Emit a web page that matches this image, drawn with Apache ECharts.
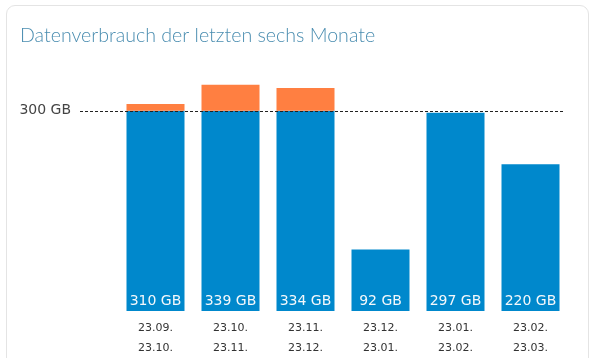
<!DOCTYPE html>
<html>
<head>
<meta charset="utf-8">
<script src="https://cdn.jsdelivr.net/npm/echarts@6/dist/echarts.min.js"></script>
<style>
html,body{margin:0;padding:0;background:#fff;width:597px;height:358px;overflow:hidden;}
#card{position:absolute;left:6px;top:5px;width:583px;height:380px;border:1px solid #e4e4e4;border-radius:9px;box-sizing:border-box;}
#chart{position:absolute;left:0;top:0;width:597px;height:358px;}
</style>
</head>
<body>
<div id="card"></div>
<div id="chart"></div>
<script>
const titleText = 'Datenverbrauch der letzten sechs Monate';
const periodStart = ['23.09.', '23.10.', '23.11.', '23.12.', '23.01.', '23.02.'];
const periodEnd   = ['23.10.', '23.11.', '23.12.', '23.01.', '23.02.', '23.03.'];
const usageGB = [310, 339, 334, 92, 297, 220];
const limitGB = 300;
const limitLabel = '300 GB';

const categories = periodStart.map((s, i) => s + '\n' + periodEnd[i]);
const withinLimit = usageGB.map(v => Math.min(v, limitGB));
const overLimit = usageGB.map(v => Math.max(v - limitGB, 0));

const chart = echarts.init(document.getElementById('chart'), null, {renderer: 'canvas'});
chart.setOption({
  animation: false,
  backgroundColor: 'transparent',
  title: {
    text: titleText,
    left: 15, top: 21,
    textStyle: {fontFamily: 'Lato', fontWeight: 300, fontSize: 19.6, color: '#4a8db0'}
  },
  grid: [
    {left: 80, right: 32, top: 44, bottom: 47},
    {left: 118, width: 450, top: 44, bottom: 47}
  ],
  xAxis: [
    {type: 'value', gridIndex: 0, show: false, min: 0, max: 1},
    {type: 'category', gridIndex: 1, data: categories,
     axisLine: {show: false}, axisTick: {show: false},
     axisLabel: {margin: 7, fontFamily: 'DejaVu Sans', fontSize: 11, color: '#333', lineHeight: 20}}
  ],
  yAxis: [
    {type: 'value', gridIndex: 0, show: false, min: 0, max: 400},
    {type: 'value', gridIndex: 1, show: false, min: 0, max: 400}
  ],
  series: [
    {type: 'line', xAxisIndex: 0, yAxisIndex: 0, data: [], symbol: 'none',
     markLine: {
       silent: true, symbol: 'none', z: 10,
       lineStyle: {type: [3, 2], color: '#222', width: 1},
       label: {position: 'start', distance: 9, formatter: limitLabel,
               fontFamily: 'DejaVu Sans', fontSize: 14, color: '#444'},
       data: [{yAxis: limitGB}]
     }
    },
    {type: 'bar', xAxisIndex: 1, yAxisIndex: 1, stack: 'u', barWidth: 58,
     data: withinLimit, itemStyle: {color: '#0088cc'},
     label: {show: true, position: 'insideBottom', distance: 3,
             formatter: p => usageGB[p.dataIndex] + ' GB',
             fontFamily: 'DejaVu Sans', fontSize: 14, color: '#f4f8fb'}
    },
    {type: 'bar', xAxisIndex: 1, yAxisIndex: 1, stack: 'u', barWidth: 58,
     data: overLimit, itemStyle: {color: '#ff7f41'}}
  ]
});
</script>
</body>
</html>
